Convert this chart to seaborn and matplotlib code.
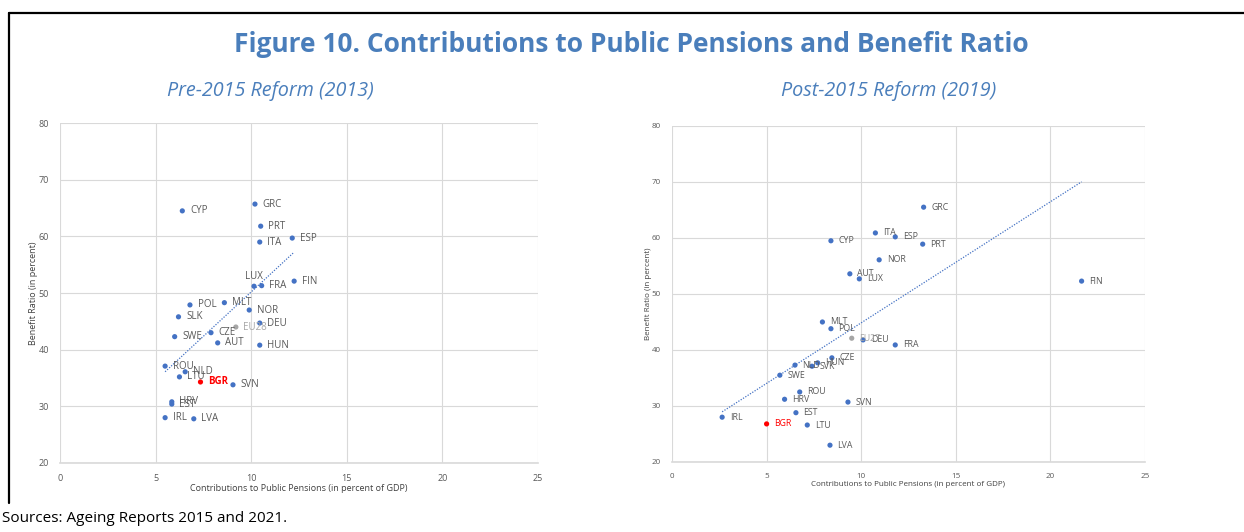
import numpy as np
import pandas as pd
import matplotlib
matplotlib.use("Agg")
import matplotlib.pyplot as plt
import seaborn as sns
from matplotlib.lines import Line2D

# ---------------- data ----------------
# Pre-2015 reform (2013)
pre_codes = ["CYP", "GRC", "PRT", "ITA", "ESP", "LUX", "FRA", "FIN", "POL", "MLT",
             "SLK", "NOR", "DEU", "SWE", "CZE", "AUT", "HUN", "ROU", "NLD", "LTU",
             "SVN", "HRV", "EST", "IRL", "LVA", "EU28", "BGR"]
pre_contrib = [6.4, 10.2, 10.5, 10.45, 12.15, 10.15, 10.55, 12.25, 6.8, 8.6,
               6.2, 9.9, 10.45, 6.0, 7.9, 8.25, 10.45, 5.5, 6.55, 6.25,
               9.05, 5.85, 5.85, 5.5, 7.0, 9.2, 7.35]
pre_benefit = [64.5, 65.7, 61.8, 59.0, 59.7, 51.2, 51.3, 52.1, 47.9, 48.3,
               45.8, 47.0, 44.7, 42.3, 43.0, 41.2, 40.8, 37.1, 36.1, 35.2,
               33.8, 30.8, 30.4, 28.0, 27.8, 44.0, 34.3]

# Post-2015 reform (2019)
post_codes = ["GRC", "ITA", "ESP", "PRT", "CYP", "NOR", "AUT", "LUX", "FIN", "MLT",
              "POL", "DEU", "FRA", "CZE", "NLD", "SVK", "HUN", "SWE", "ROU", "HRV",
              "SVN", "IRL", "EST", "LTU", "LVA", "EU27", "BGR"]
post_contrib = [13.3, 10.75, 11.8, 13.25, 8.4, 10.95, 9.4, 9.9, 21.65, 7.95,
                8.4, 10.1, 11.8, 8.45, 6.5, 7.4, 7.7, 5.7, 6.75, 5.95,
                9.3, 2.65, 6.55, 7.15, 8.35, 9.5, 5.0]
post_benefit = [65.5, 60.9, 60.2, 58.9, 59.5, 56.1, 53.6, 52.7, 52.3, 45.0,
                43.8, 41.8, 40.9, 38.6, 37.3, 37.1, 37.7, 35.5, 32.5, 31.2,
                30.7, 28.0, 28.8, 26.6, 23.0, 42.1, 26.8]

x_ticks = [0, 5, 10, 15, 20, 25]
y_ticks = [20, 30, 40, 50, 60, 70, 80]

title = "Figure 10. Contributions to Public Pensions and Benefit Ratio"
sub_left = "Pre-2015 Reform (2013)"
sub_right = "Post-2015 Reform (2019)"
xlabel = "Contributions to Public Pensions (in percent of GDP)"
ylabel = "Benefit Ratio (in percent)"
source = "Sources: Ageing Reports 2015 and 2021."

# ---------------- style ----------------
sns.set_theme(style="white")
plt.rcParams["font.family"] = ["Open Sans", "DejaVu Sans"]

BLUE = "#4472C4"
TITLE_BLUE = "#4A7EBB"
GREY_TXT = "#595959"
EU_GREY = "#A6A6A6"
RED = "#FF0000"

fig = plt.figure(figsize=(12.44, 5.32), dpi=100)
fig.patch.set_facecolor("white")

ax1 = fig.add_axes([0.0482, 0.1297, 0.3842, 0.639])
ax2 = fig.add_axes([0.5402, 0.1316, 0.3802, 0.6316])


def category(code):
    if code.startswith("EU"):
        return "eu"
    if code == "BGR":
        return "bgr"
    return "country"


def draw(ax, codes, xs, ys, lab_size, tick_size, bgr_bold, special, ypad):
    df = pd.DataFrame({"code": codes, "x": xs, "y": ys})
    df["cat"] = df["code"].map(category)
    pal = {"country": BLUE, "eu": EU_GREY, "bgr": RED}
    sns.scatterplot(data=df, x="x", y="y", hue="cat", palette=pal, s=14,
                    linewidth=0, legend=False, ax=ax, zorder=3)
    main = df[df["cat"] == "country"]
    sns.regplot(data=main, x="x", y="y", scatter=False, ci=None, ax=ax,
                line_kws=dict(color=BLUE, lw=0.9, ls=(0, (1, 1.2))))
    for _, r in df.iterrows():
        col = {"country": GREY_TXT, "eu": EU_GREY, "bgr": RED}[r["cat"]]
        weight = "bold" if (r["cat"] == "bgr" and bgr_bold) else "normal"
        dx, dy, ha = special.get(r["code"], (5.5, 0, "left"))
        ax.annotate(r["code"], (r["x"], r["y"]), xytext=(dx, dy),
                    textcoords="offset points", ha=ha, va="center",
                    fontsize=lab_size, color=col, fontweight=weight, zorder=4)
    ax.set_xlim(0, 25)
    ax.set_ylim(20, 80)
    ax.set_xticks(x_ticks)
    ax.set_yticks(y_ticks)
    ax.grid(True, color="#D9D9D9", lw=0.8)
    ax.set_axisbelow(True)
    for s in ["top", "right", "left"]:
        ax.spines[s].set_visible(False)
    ax.spines["bottom"].set_color("#D9D9D9")
    ax.spines["bottom"].set_linewidth(1.2)
    ax.tick_params(axis="both", length=0, labelsize=tick_size, colors=GREY_TXT, pad=8)
    ax.set_xlabel(xlabel, fontsize=tick_size, color="#404040", labelpad=1)
    ax.set_ylabel(ylabel, fontsize=tick_size, color="#404040", labelpad=ypad)


draw(ax1, pre_codes, pre_contrib, pre_benefit, 7, 6.5, True,
     {"LUX": (0, 7, "center")}, 0)
draw(ax2, post_codes, post_contrib, post_benefit, 6.3, 5.8, False, {}, 0)

fig.text(631 / 1244, 1 - 45 / 532, title, ha="center", va="center",
         fontsize=19, fontweight="bold", color=TITLE_BLUE)
fig.text(270 / 1244, 1 - 91 / 532, sub_left, ha="center", va="center",
         fontsize=14.2, style="italic", color=TITLE_BLUE)
fig.text(889 / 1244, 1 - 91 / 532, sub_right, ha="center", va="center",
         fontsize=14.2, style="italic", color=TITLE_BLUE)
fig.text(2 / 1244, 1 - 519 / 532, source, ha="left", va="center",
         fontsize=11, color="black")

# frame
fig.add_artist(Line2D([9 / 1244, 1.0], [1 - 13 / 532, 1 - 13 / 532],
                      transform=fig.transFigure, color="black", lw=1.6))
fig.add_artist(Line2D([9 / 1244, 9 / 1244], [1 - 13 / 532, 1 - 503 / 532],
                      transform=fig.transFigure, color="black", lw=1.6))

fig.savefig("out.png", dpi=100, facecolor="white")
